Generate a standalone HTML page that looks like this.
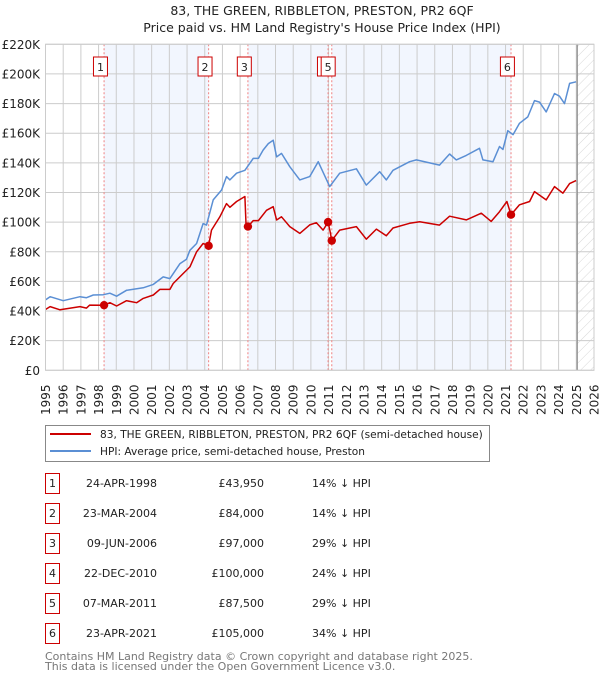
<!DOCTYPE html>
<html><head><meta charset="utf-8"><style>
body{margin:0;background:#fff;}
svg text{font-family:"DejaVu Sans","Liberation Sans",sans-serif;}
</style></head><body>
<svg id="chart" width="600" height="680" xmlns="http://www.w3.org/2000/svg">
<defs><pattern id="hatch" width="7" height="7" patternUnits="userSpaceOnUse" patternTransform="rotate(45)"><line x1="0" y1="0" x2="0" y2="7" stroke="#d8d8d8" stroke-width="1"/></pattern></defs>
<text x="322" y="15" font-size="12.5" text-anchor="middle" fill="#222">83, THE GREEN, RIBBLETON, PRESTON, PR2 6QF</text>
<text x="322" y="32" font-size="12.5" text-anchor="middle" fill="#222">Price paid vs. HM Land Registry's House Price Index (HPI)</text>
<g id="plot"></g>
<g>
<rect x="45.5" y="425.5" width="444" height="36" fill="#fff" stroke="#888"/>
<line x1="50" y1="434" x2="91" y2="434" stroke="#cc0000" stroke-width="2"/>
<text x="100" y="438" font-size="10.6" fill="#222">83, THE GREEN, RIBBLETON, PRESTON, PR2 6QF (semi-detached house)</text>
<line x1="50" y1="451" x2="91" y2="451" stroke="#5b8fd4" stroke-width="2"/>
<text x="100" y="455" font-size="10.6" fill="#222">HPI: Average price, semi-detached house, Preston</text>
</g>
<g id="table"></g>
<text x="45" y="660" font-size="11" fill="#777">Contains HM Land Registry data © Crown copyright and database right 2025.</text>
<text x="45" y="670" font-size="11" fill="#777">This data is licensed under the Open Government Licence v3.0.</text>
</svg>
<script>
const yTicks=[0,20,40,60,80,100,120,140,160,180,200,220];
const yTickLabels=["£0","£20K","£40K","£60K","£80K","£100K","£120K","£140K","£160K","£180K","£200K","£220K"];
const years=[1995,1996,1997,1998,1999,2000,2001,2002,2003,2004,2005,2006,2007,2008,2009,2010,2011,2012,2013,2014,2015,2016,2017,2018,2019,2020,2021,2022,2023,2024,2025,2026];
const saleNums=[1,2,3,4,5,6];
const saleYears=[1998.31,2004.22,2006.44,2010.97,2011.18,2021.31];
const salePrices=[43.95,84,97,100,87.5,105];
const saleDates=["24-APR-1998","23-MAR-2004","09-JUN-2006","22-DEC-2010","07-MAR-2011","23-APR-2021"];
const salePriceLabels=["£43,950","£84,000","£97,000","£100,000","£87,500","£105,000"];
const saleHpi=["14% ↓ HPI","14% ↓ HPI","29% ↓ HPI","24% ↓ HPI","29% ↓ HPI","34% ↓ HPI"];
const hpiYears=[1995,1995.26,1996,1996.95,1997.32,1997.7,1998.27,1998.64,1999.02,1999.58,2000.52,2001.09,2001.65,2002.03,2002.6,2002.97,2003.16,2003.54,2003.91,2004.1,2004.48,2004.95,2005.23,2005.42,2005.8,2006.27,2006.74,2007.03,2007.3,2007.59,2007.87,2008.06,2008.34,2008.81,2009.37,2009.93,2010.41,2011.06,2011.63,2012.57,2013.13,2013.89,2014.26,2014.64,2015.58,2015.96,2017.27,2017.84,2018.22,2018.78,2019.53,2019.72,2020.29,2020.66,2020.85,2021.13,2021.42,2021.79,2022.26,2022.64,2022.92,2023.3,2023.77,2024.05,2024.33,2024.62,2024.99];
const hpiValues=[47.5,49.7,47,49.7,49,50.8,51,52,50,54,55.7,58,63,61.9,72,75,81,85.6,99,98,115,121.7,130.7,128.5,133,135,143,143,148.6,153,155.3,144,146.4,137.4,128.5,130.7,140.8,124,133,136,125,134,128.5,135,140.8,142,138.5,146,142,145,149.8,142,140.8,151,149,161.7,159,166.7,171,182,181,174.4,186.8,185,180,193.6,194.7];
const ppYears=[1995,1995.26,1995.82,1996.95,1997.32,1997.5,1998.31,1998.64,1999.02,1999.58,2000.15,2000.52,2001.09,2001.46,2002.03,2002.22,2002.78,2003.16,2003.54,2003.91,2004.22,2004.38,2004.85,2005.23,2005.42,2005.8,2006.27,2006.33,2006.44,2006.74,2007.03,2007.49,2007.87,2008.06,2008.34,2008.81,2009.37,2009.93,2010.31,2010.69,2010.97,2011.06,2011.18,2011.63,2012.57,2013.13,2013.7,2014.26,2014.64,2015.58,2016.15,2017.27,2017.84,2018.78,2019.63,2020.19,2020.66,2021.08,2021.31,2021.79,2022.36,2022.64,2023.3,2023.77,2024.24,2024.62,2024.99];
const ppValues=[41,43,40.8,43,42,44,43.95,45.6,43.4,47,45.6,48.5,50.8,54.6,54.6,58.6,65.3,69.8,80,85.6,84,94.6,103.5,112.5,110,113.9,117.3,99,97,101,101,108,110.4,101.4,103.6,97,92.4,98.1,99.6,94.6,100,95,87.5,94.6,97,88.5,95.3,90.8,96,99.2,100.3,98,104,101.5,106,100.5,107,113.9,105,111.7,113.9,120.6,115,124,119.5,126,128];

const NS="http://www.w3.org/2000/svg";
const L=45.5,R=594,T=44.3,B=370.3,Y0=1995,Y1=2026,VMAX=220;
function xs(y){return L+(y-Y0)/(Y1-Y0)*(R-L);}
function ys(v){return B-v/VMAX*(B-T);}
function mk(tag,attrs,parent){const e=document.createElementNS(NS,tag);for(const k in attrs)e.setAttribute(k,attrs[k]);parent.appendChild(e);return e;}
const plot=document.getElementById('plot');
const bands=[[0,1],[2,3],[4,5]];
bands.forEach(b=>{
 const r=mk('rect',{x:xs(saleYears[b[0]]),y:T,width:xs(saleYears[b[1]])-xs(saleYears[b[0]]),height:B-T,fill:'#eef3fd',opacity:0.75},plot);
 
 
});
const h=mk('rect',{x:xs(2025.05),y:T,width:R-xs(2025.05),height:B-T,fill:'url(#hatch)'},plot);


years.forEach((yr,i)=>{
 const g=mk('line',{x1:xs(yr),x2:xs(yr),y1:T,y2:B,stroke:'#ccc','stroke-width':1},plot);
 
 
 const t=mk('text',{x:0,y:0,'font-size':12,fill:'#222',transform:`translate(${xs(yr)+4.5},${415}) rotate(-90)`},plot);
 t.textContent=yr;
 
 
});
yTicks.forEach((v,i)=>{
 const g=mk('line',{x1:L,x2:R,y1:ys(v),y2:ys(v),stroke:'#ccc','stroke-width':1},plot);
 
 
 const t=mk('text',{x:40,y:ys(v)+4.5,'font-size':12,fill:'#222','text-anchor':'end'},plot);
 t.textContent=yTickLabels[i];
 
 
});
const now=mk('line',{x1:xs(2025.05),x2:xs(2025.05),y1:T,y2:B,stroke:'#888','stroke-width':1.2},plot);


saleYears.forEach(sy=>{
 const l=mk('line',{x1:xs(sy),x2:xs(sy),y1:T,y2:B,stroke:'#f08080','stroke-width':1,'stroke-dasharray':'2,2'},plot);
 
 
});
function path(xsArr,vs){return xsArr.map((y,i)=>(i?'L':'M')+xs(y).toFixed(1)+','+ys(vs[i]).toFixed(1)).join('');}
const hp=mk('path',{d:path(hpiYears,hpiValues),fill:'none',stroke:'#5b8fd4','stroke-width':1.5,'stroke-linejoin':'round'},plot);


const pp=mk('path',{d:path(ppYears,ppValues),fill:'none',stroke:'#cc0000','stroke-width':1.5,'stroke-linejoin':'round'},plot);


saleYears.forEach((sy,i)=>{
 const c=mk('circle',{cx:xs(sy),cy:ys(salePrices[i]),r:4.2,fill:'#cc0000'},plot);
 
 
});
saleYears.forEach((sy,i)=>{
 const g=mk('g',{},plot);
 
 
 const cx=xs(sy)-3.6;
 mk('rect',{x:cx-7,y:57,width:14,height:19,fill:'#fff',stroke:'#cc0000','stroke-width':1},g);
 const t=mk('text',{x:cx,y:71,'font-size':11,'text-anchor':'middle',fill:'#222'},g);
 t.textContent=saleNums[i];
});
const fr=mk('rect',{x:L,y:T,width:R-L,height:B-T,fill:'none',stroke:'#ccc'},plot);


const tb=document.getElementById('table');
saleNums.forEach((n,i)=>{
 const cy=483+i*30;
 const g=mk('g',{},tb);
 
 
 mk('rect',{x:45.5,y:cy-9.5,width:14,height:20,fill:'#fff',stroke:'#cc0000'},g);
 const a=mk('text',{x:52.5,y:cy+4,'font-size':11,'text-anchor':'middle',fill:'#222'},g);a.textContent=n;
 const d=mk('text',{x:157,y:cy+4,'font-size':11,'text-anchor':'end',fill:'#222'},g);d.textContent=saleDates[i];
 const p=mk('text',{x:264,y:cy+4,'font-size':11,'text-anchor':'end',fill:'#222'},g);p.textContent=salePriceLabels[i];
 const q=mk('text',{x:312,y:cy+4,'font-size':11,fill:'#222'},g);q.textContent=saleHpi[i];
});
</script>
</body></html>
